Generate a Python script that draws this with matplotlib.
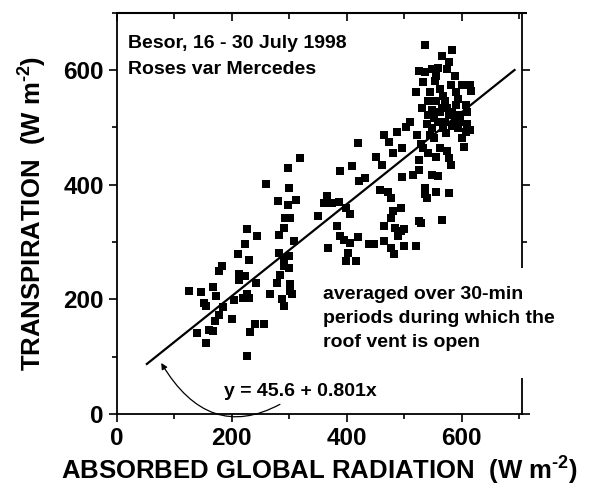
import numpy as np
import matplotlib.pyplot as plt
from matplotlib.ticker import MultipleLocator
from matplotlib.patches import Rectangle

plt.rcParams['font.family'] = 'Liberation Sans'
plt.rcParams['font.weight'] = 'bold'
plt.rcParams['axes.labelweight'] = 'bold'
plt.rcParams['mathtext.fontset'] = 'custom'
plt.rcParams['mathtext.rm'] = 'Liberation Sans:bold'
plt.rcParams['mathtext.it'] = 'Liberation Sans:bold'
plt.rcParams['mathtext.bf'] = 'Liberation Sans:bold'

# absorbed global radiation (W m-2), 30-min means
rad = [126, 146, 151, 155, 167, 172, 139, 155, 160, 168, 170, 178, 178, 182, 184,
       200, 210, 204, 213, 213, 220, 222, 226, 222, 226, 229, 226, 230, 232, 240,
       243, 242, 256, 259, 266, 282, 280, 279, 282, 284, 288, 290, 291, 293, 297,
       300, 297, 300, 302, 300, 302, 304, 308, 302, 312, 318, 291, 291,
       350, 360, 366, 368, 375, 383, 388, 386, 389, 396, 399, 402, 399, 406, 409,
       406, 416, 419, 419, 422, 432, 438, 448, 451, 458, 461, 464, 464, 464, 471,
       474, 477, 480, 477, 480, 482, 477, 484, 490, 494, 494, 497, 497, 499, 500,
       487, 503, 510, 516, 520, 522, 526, 526, 526, 529, 532, 536, 536, 539, 542,
       545, 549, 552, 555, 558, 565, 562, 568, 575, 578, 578, 581,
       526, 536, 520, 531, 533, 536, 542, 545, 549, 552, 555, 555, 558, 562, 565,
       565, 568, 571, 575, 578, 581, 584, 584, 588, 591, 591, 594, 597, 600, 604,
       607, 610, 614, 614, 617, 542, 549, 558, 571, 578, 562, 575, 584, 597, 607,
       555, 539, 600, 548, 568, 588, 553, 572, 593, 530, 610]
# transpiration (W m-2)
trans = [215, 212, 193, 189, 222, 206, 141, 123, 146, 145, 163, 172, 249, 258, 187,
         166, 279, 198, 245, 234, 203, 296, 322, 241, 209, 203, 101, 268, 143, 157,
         310, 229, 157, 401, 209, 313, 371, 229, 281, 242, 201, 189, 325, 342, 429,
         394, 365, 276, 342, 255, 215, 209, 302, 227, 374, 447, 270, 258,
         345, 368, 380, 290, 368, 328, 423, 370, 310, 304, 360, 281, 267, 348, 432,
         299, 267, 308, 472, 406, 412, 297, 297, 449, 391, 435, 487, 328, 302, 387,
         475, 290, 455, 377, 354, 279, 342, 325, 310, 360, 319, 464, 414, 322, 293,
         492, 501, 510, 417, 293, 487, 443, 426, 336, 333, 464, 394, 383, 377, 455,
         487, 417, 481, 388, 415, 339, 464, 504, 458, 446, 386, 435,
         599, 643, 562, 533, 579, 596, 545, 562, 602, 516, 545, 590, 604, 567, 624,
         533, 498, 545, 602, 613, 573, 635, 527, 590, 562, 539, 498, 521, 481, 466,
         539, 527, 573, 495, 564, 522, 498, 510, 510, 522, 527, 533, 502, 510, 492,
         449, 506, 573, 530, 555, 515, 580, 490, 550, 470, 505]

# least-squares fit y = 45.6 + 0.801x
intercept = 45.6
slope = 0.801
fit_x = np.array([52, 692])

fig = plt.figure(figsize=(5.89, 4.98), dpi=100)
ax = fig.add_axes([0.1986, 0.1687, 0.6876, 0.806])

ax.plot(rad, trans, 's', color='black', markersize=6.3, markeredgewidth=0, zorder=2)
ax.plot(fit_x, intercept + slope * fit_x, '-', color='black', lw=1.6, zorder=2)

ax.set_xlim(0, 705)
ax.set_ylim(0, 700)
ax.xaxis.set_major_locator(MultipleLocator(200))
ax.xaxis.set_minor_locator(MultipleLocator(100))
ax.yaxis.set_major_locator(MultipleLocator(200))
ax.yaxis.set_minor_locator(MultipleLocator(100))

for sp in ax.spines.values():
    sp.set_linewidth(1.3)

ax.tick_params(axis='x', which='both', direction='out', top=False, width=1.2)
ax.tick_params(axis='y', which='both', direction='out', right=True, width=1.2)
ax.tick_params(which='major', length=6, labelsize=17.5)
ax.tick_params(which='minor', length=3.5)

# inward ticks along the top edge
top = ax.secondary_xaxis('top')
top.xaxis.set_major_locator(MultipleLocator(200))
top.xaxis.set_minor_locator(MultipleLocator(100))
top.tick_params(which='both', direction='in', labeltop=False, width=1.2)
top.tick_params(which='major', length=6)
top.tick_params(which='minor', length=4)
top.spines['top'].set_visible(False)
# frame line along the top
ax.plot([0, 1.012], [1, 1], color='black', lw=1.5, transform=ax.transAxes,
        clip_on=False, zorder=2.5, solid_capstyle='butt')

ax.set_xlabel(r'ABSORBED GLOBAL RADIATION  (W m$^{\text{-2}}$)', fontsize=18.5, labelpad=3)
ax.set_ylabel(r'TRANSPIRATION  (W m$^{\text{-2}}$)', fontsize=18.5, labelpad=10)

ax.text(19, 646, 'Besor, 16 - 30 July 1998', fontsize=14, va='center')
ax.text(19, 600, 'Roses var Mercedes', fontsize=14, va='center')

# white patch breaks the right frame behind the note
ax.add_patch(Rectangle((690, 63), 40, 191, facecolor='white', edgecolor='none',
                       clip_on=False, zorder=2.8))
ax.text(359, 166, 'averaged over 30-min\nperiods during which the\nroof vent is open',
        fontsize=14, va='center', ha='left', linespacing=1.55, zorder=3, clip_on=False)

ax.annotate('y = 45.6 + 0.801x', xy=(77, 89), xytext=(187, 40),
            fontsize=14, va='center', ha='left',
            arrowprops=dict(arrowstyle='-|>', color='black', lw=0.9,
                            connectionstyle='arc3,rad=-0.55', shrinkA=3, shrinkB=0,
                            mutation_scale=9))

fig.savefig('out.png', dpi=100)
